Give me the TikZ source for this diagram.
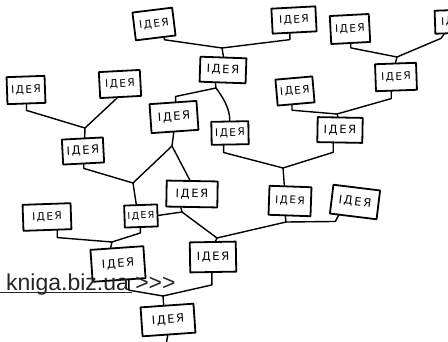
\documentclass[tikz,border=0pt]{standalone}
\usepackage{fontspec}
\setmainfont{DejaVu Sans}
\newfontfamily\ideafont[LetterSpace=14]{DejaVu Sans}
\newfontfamily\wmfont{Liberation Sans}
\begin{document}
\begin{tikzpicture}[x=1pt,y=-1pt,
  idea/.style={draw,line width=1.8pt,inner sep=0pt,fill=white,line join=round,
    font=\ideafont\fontsize{10.5}{10.5}\selectfont},
  big/.style={font=\ideafont\fontsize{11.5}{11.5}\selectfont},
  conn/.style={line width=1.4pt,line join=round,line cap=round}]
\useasboundingbox (0,0) rectangle (448,341);
\clip (0,0) rectangle (448,341);
% nodes
\node[idea,minimum width=40pt,minimum height=28pt,rotate=7] (A) at (154,24) {ІДЕЯ};
\node[idea,minimum width=44pt,minimum height=25pt,rotate=3] (B) at (294,20) {ІДЕЯ};
\node[idea,minimum width=39pt,minimum height=28pt,rotate=3] (C) at (350,29) {ІДЕЯ};
\node[idea,minimum width=42pt,minimum height=23pt,rotate=2] (D) at (456,21.5) {ІДЕЯ};
\node[idea,big,minimum width=46pt,minimum height=25pt,rotate=-2] (E) at (223,70) {ІДЕЯ};
\node[idea,minimum width=41pt,minimum height=27pt,rotate=2] (F) at (396,77) {ІДЕЯ};
\node[idea,minimum width=38pt,minimum height=27pt,rotate=2] (G) at (26,90) {ІДЕЯ};
\node[idea,minimum width=41pt,minimum height=26pt,rotate=3] (H) at (120,84) {ІДЕЯ};
\node[idea,big,minimum width=47pt,minimum height=29pt,rotate=4] (I) at (174,117) {ІДЕЯ};
\node[idea,minimum width=37pt,minimum height=26pt,rotate=5] (J) at (295,91) {ІДЕЯ};
\node[idea,big,minimum width=45pt,minimum height=25pt,rotate=-1] (K) at (340,130) {ІДЕЯ};
\node[idea,minimum width=37pt,minimum height=23pt,rotate=1] (L) at (230,133) {ІДЕЯ};
\node[idea,big,minimum width=41pt,minimum height=25pt,rotate=3] (M) at (83,151) {ІДЕЯ};
\node[idea,big,minimum width=51pt,minimum height=26pt,rotate=-1] (N) at (192,194) {ІДЕЯ};
\node[idea,minimum width=42pt,minimum height=29pt,rotate=-2] (O) at (290,201) {ІДЕЯ};
\node[idea,big,minimum width=47pt,minimum height=29pt,rotate=-7] (P) at (355,202) {ІДЕЯ};
\node[idea,minimum width=48pt,minimum height=26pt,rotate=2] (Q) at (47,217) {ІДЕЯ};
\node[idea,minimum width=33pt,minimum height=22pt,rotate=2,font=\ideafont\fontsize{9.5}{9.5}\selectfont] (R) at (141,216) {ІДЕЯ};
\node[idea,big,minimum width=53pt,minimum height=32pt,rotate=4] (S) at (118,264) {ІДЕЯ};
\node[idea,big,minimum width=46pt,minimum height=30pt,rotate=1] (T) at (213,257) {ІДЕЯ};
\node[idea,big,minimum width=53pt,minimum height=29pt,rotate=4] (U) at (168,320) {ІДЕЯ};
% junctions
\coordinate (jAE) at (222,48);
\coordinate (jCD) at (397,57);
\coordinate (jGH) at (85,128);
\coordinate (jE) at (216,88);
\coordinate (jI) at (172,146);
\coordinate (jR) at (133,183);
\coordinate (jN) at (182,212);
\coordinate (jT) at (217,238);
\coordinate (jLK) at (283,168);
\coordinate (jJF) at (337,114);
\coordinate (jOP) at (286,222);
\coordinate (jU) at (163,296);
\coordinate (jQR) at (112,242);
\coordinate (bot) at (166,345);
% connectors
\draw[conn] (A.-60) -- ++(0,2) -- (jAE) -- (E.north);
\draw[conn] (B.-110) -- ++(0,6) -- (jAE);
\draw[conn] (C.south) -- ++(0,4) -- (jCD) -- (F.north);
\draw[conn] (D.-135) -- ++(-3,4) -- (jCD);
\draw[conn] (G.south) -- ++(0,6) -- (jGH) -- (M.80);
\draw[conn] (H.-105) -- (jGH);
\draw[conn] (I.80) -- ++(0,-5) -- (jE) -- (E.-118);
\draw[conn] (jE) .. controls (222,96) and (230,108) .. (L.north);
\draw[conn] (I.-95) -- (jI) -- (jR) -- (R.110);
\draw[conn] (jI) -- (N.100);
\draw[conn] (M.south) -- ++(0,4) -- (jR);
\draw[conn] (N.-128) -- (jN) -- (R.east);
\draw[conn] (jN) -- (jT) -- (T.80);
\draw[conn] (L.-118) -- ++(0,7) -- (jLK) -- (O.112);
\draw[conn] (K.-116) -- ++(0,9) -- (jLK);
\draw[conn] (J.-107) -- ++(0,5) -- (jJF) -- (K.100);
\draw[conn] (F.-110) -- ++(0,7) -- (jJF);
\draw[conn] (O.-105) -- (jOP) -- (jT);
\draw[conn] (P.-134) -- ++(-3,6) -- (jOP);
\draw[conn] (T.-95) -- ++(0,12) -- (jU) -- (U.102);
\draw[conn] (S.-60) -- ++(0,10) -- (jU);
\draw[conn] (U.-95) -- (bot);
\draw[conn] (Q.-55) -- ++(0,7) -- (jQR) -- (S.110);
\draw[conn] (R.-95) -- ++(0,5) -- (jQR);
% watermark
\node[anchor=base west,inner sep=0pt,text=black!85,
  font=\wmfont\fontsize{23}{23}\selectfont] (wm) at (6,290) {kniga.biz.ua >>>};
\coordinate (ul1) at (0,292.5);
\coordinate (ul2) at (132,292.5);
\draw[line width=1pt,black!85] (ul1) -- (ul2);
\end{tikzpicture}
\end{document}
